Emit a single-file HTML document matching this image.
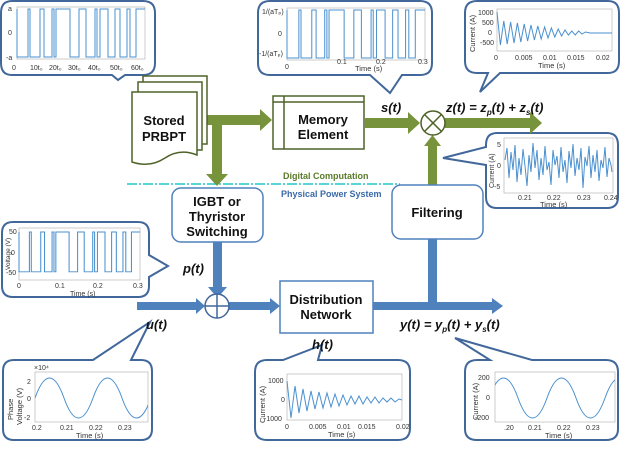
<!DOCTYPE html>
<html><head><meta charset="utf-8"><style>
html,body{margin:0;padding:0;background:#fff;}
svg{display:block;font-family:"Liberation Sans",sans-serif;}
.bl{font-weight:bold;font-size:13px;fill:#111;text-anchor:middle}
.it{font-weight:bold;font-style:italic;font-size:13px;fill:#111}
.tk{font-size:7px;fill:#333}
.co{fill:#fff;stroke:#41679b;stroke-width:2}
.pl{fill:none;stroke:#4a90cf;stroke-width:1}
.ax{fill:none;stroke:#aaa;stroke-width:0.6}
</style></head><body>
<svg width="620" height="465" viewBox="0 0 620 465" xmlns="http://www.w3.org/2000/svg">
<defs>
<path id="sq" d="M0,0 V48 H11 V0 H13 V48 H23 V0 H27 V48 H35 V0 H37 V48 H39 V0 H53 V48 H62 V0 H69 V48 H78 V0 H80 V48 H83 V0 H91 V48 H98 V0 H103 V48 H110 V0 H113 V48 H119 V0 H128"/>
</defs>

<path class="co" d="M12,1 H143 Q155,1 155,13 V63 Q155,75 143,75 H125 L118,80 L112,75 H12 Q1,75 1,63 V13 Q1,1 12,1 Z"/>
<rect class="ax" x="17" y="7" width="128" height="52"/>
<g transform="translate(17,9)"><use href="#sq" class="pl"/></g>
<text class="tk" x="8" y="11">a</text><text class="tk" x="8" y="35">0</text><text class="tk" x="6" y="60">-a</text>
<text class="tk" x="12" y="70">0</text><text class="tk" x="30" y="70">10t₀</text><text class="tk" x="49" y="70">20t₀</text><text class="tk" x="68" y="70">30t₀</text><text class="tk" x="88" y="70">40t₀</text><text class="tk" x="110" y="70">50t₀</text><text class="tk" x="131" y="70">60t₀</text>

<path class="co" d="M270,1 H420 Q432,1 432,13 V63 Q432,75 420,75 H402 L390,93 L370,75 H270 Q258,75 258,63 V13 Q258,1 270,1 Z"/>
<rect class="ax" x="287" y="8" width="138" height="52"/>
<g transform="translate(287,10) scale(1.078,1)"><use href="#sq" class="pl" style="stroke-width:0.93"/></g>
<text class="tk" x="262" y="14">1/(aTₚ)</text><text class="tk" x="278" y="36">0</text><text class="tk" x="259" y="56">-1/(aTₚ)</text>
<text class="tk" x="285" y="69">0</text><text class="tk" x="337" y="64">0.1</text><text class="tk" x="376" y="64">0.2</text><text class="tk" x="418" y="64">0.3</text>
<text class="tk" x="355" y="71" style="font-size:7.5px">Time (s)</text>

<path class="co" d="M477,1 H608 Q619,1 619,13 V61 Q619,73 608,73 H500 L480,92 L488,73 H477 Q465,73 465,61 V13 Q465,1 477,1 Z"/>
<rect class="ax" x="497" y="9" width="115" height="42"/>
<polyline class="pl" points="497,12 500.4,45 503.8,21 507.2,44 510.6,22 514,43 517.4,23 520.8,42 524.2,24 527.6,41 531,25 534.4,40 537.8,26 541.2,39 544.6,27 548,38 551.4,28 554.8,37 558.2,29 561.6,36 565,30 568.4,35 571.8,31 575.2,35 578.6,31 582,34 585.4,32 590,33 612,33"/>
<text class="tk" x="478" y="15">1000</text><text class="tk" x="482" y="25">500</text><text class="tk" x="488" y="35">0</text><text class="tk" x="480" y="45">-500</text>
<text class="tk" x="494" y="60">0</text><text class="tk" x="515" y="60">0.005</text><text class="tk" x="543" y="60">0.01</text><text class="tk" x="567" y="60">0.015</text><text class="tk" x="596" y="60">0.02</text>
<text class="tk" x="538" y="68" style="font-size:7.5px">Time (s)</text>
<text class="tk" transform="translate(475,52) rotate(-90)" style="font-size:7.5px">Current (A)</text>

<path class="co" d="M497,133 H607 Q618,133 618,145 V197 Q618,208 607,208 H497 Q486,208 486,197 V165 L443,158 L486,147 V145 Q486,133 497,133 Z"/>
<rect class="ax" x="504" y="138" width="109" height="55"/>
<polyline class="pl" points="505,160 507,148 509,178 511,152 513,170 515,145 517,182 519,158 521,175 523,149 525,166 527,186 529,155 531,172 533,143 535,168 537,150 539,180 541,158 543,175 545,146 547,170 549,162 551,185 553,150 555,165 557,156 559,178 561,147 563,172 565,160 567,183 569,151 571,168 573,144 575,176 577,158 579,170 581,148 583,188 585,157 587,166 589,146 591,178 593,155 595,172 597,150 599,181 601,160 603,168 605,147 607,177 609,158 611,165 612,172"/>
<text class="tk" x="497" y="147">5</text><text class="tk" x="497" y="168">0</text><text class="tk" x="494" y="189">-5</text>
<text class="tk" x="518" y="200">0.21</text><text class="tk" x="547" y="200">0.22</text><text class="tk" x="577" y="200">0.23</text><text class="tk" x="604" y="200">0.24</text>
<text class="tk" x="540" y="207" style="font-size:7.5px">Time (s)</text>
<text class="tk" transform="translate(494,188) rotate(-90)" style="font-size:7px">Current (A)</text>

<path class="co" d="M13,222 H138 Q149,222 149,233 V255 L168,266 L149,277 V286 Q149,297 138,297 H13 Q2,297 2,286 V233 Q2,222 13,222 Z"/>
<rect class="ax" x="19" y="228" width="121" height="52"/>
<g transform="translate(19,232) scale(0.945,0.83)"><use href="#sq" class="pl" style="stroke-width:1.1"/></g>
<text class="tk" x="9" y="234">50</text><text class="tk" x="11" y="255">0</text><text class="tk" x="6" y="275">-50</text>
<text class="tk" x="17" y="288">0</text><text class="tk" x="55" y="288">0.1</text><text class="tk" x="93" y="288">0.2</text><text class="tk" x="133" y="288">0.3</text>
<text class="tk" x="70" y="296">Time (s)</text>
<text class="tk" transform="translate(10,270) rotate(-90)" style="font-size:6.5px">Voltage (V)</text>

<path class="co" d="M14,360 H93 L150,322 L131,360 H141 Q152,360 152,371 V429 Q152,440 141,440 H14 Q3,440 3,429 V371 Q3,360 14,360 Z"/>
<rect class="ax" x="35" y="372" width="113" height="50"/>
<svg x="35" y="372" width="113" height="50" overflow="hidden"><path class="pl" d="M0,26 c9.5,-26.7 19.5,-26.7 29,0 s19.5,26.7 29,0 s19.5,-26.7 29,0 s19.5,26.7 29,0"/></svg>
<text class="tk" x="34" y="370">×10⁴</text>
<text class="tk" x="27" y="384">2</text><text class="tk" x="27" y="401">0</text><text class="tk" x="24" y="420">-2</text>
<text class="tk" x="32" y="430">0.2</text><text class="tk" x="60" y="430">0.21</text><text class="tk" x="89" y="430">0.22</text><text class="tk" x="118" y="430">0.23</text>
<text class="tk" x="76" y="438" style="font-size:7.5px">Time (s)</text>
<text class="tk" transform="translate(13,420) rotate(-90)" style="font-size:7.5px">Phase</text>
<text class="tk" transform="translate(22,425) rotate(-90)" style="font-size:7.5px">Voltage (V)</text>

<path class="co" d="M267,360 H283 L322,345 L318,360 H398 Q410,360 410,372 V428 Q410,440 398,440 H267 Q255,440 255,428 V372 Q255,360 267,360 Z"/>
<rect class="ax" x="287" y="374" width="115" height="46"/>
<polyline class="pl" points="287,381 291,418 295,386 299,413 303,389 307,411 311,391 315,409 319,392 323,408 327,393 331,407 335,394 339,406 343,395 347,405 351,396 355,404 359,396 363,404 367,397 371,403 375,397 379,403 383,398 387,402 391,398 395,402 399,399 402,400"/>
<text class="tk" x="268" y="383">1000</text><text class="tk" x="281" y="402">0</text><text class="tk" x="264" y="421">-1000</text>
<text class="tk" x="285" y="429">0</text><text class="tk" x="309" y="429">0.005</text><text class="tk" x="337" y="429">0.01</text><text class="tk" x="358" y="429">0.015</text><text class="tk" x="396" y="429">0.02</text>
<text class="tk" x="328" y="437" style="font-size:7.5px">Time (s)</text>
<text class="tk" transform="translate(265,423) rotate(-90)" style="font-size:7.5px">Current (A)</text>

<path class="co" d="M477,360 H490 L455,338 L532,360 H606 Q618,360 618,372 V429 Q618,440 606,440 H477 Q465,440 465,429 V372 Q465,360 477,360 Z"/>
<rect class="ax" x="495" y="372" width="120" height="50"/>
<svg x="495" y="372" width="120" height="50" overflow="hidden"><path class="pl" d="M-6,26 c9.5,-26.7 19.5,-26.7 29,0 s19.5,26.7 29,0 s19.5,-26.7 29,0 s19.5,26.7 29,0 s19.5,-26.7 29,0"/></svg>
<text class="tk" x="478" y="380">200</text><text class="tk" x="486" y="400">0</text><text class="tk" x="475" y="420">-200</text>
<text class="tk" x="504" y="430">.20</text><text class="tk" x="528" y="430">0.21</text><text class="tk" x="557" y="430">0.22</text><text class="tk" x="586" y="430">0.23</text>
<text class="tk" x="545" y="438" style="font-size:7.5px">Time (s)</text>
<text class="tk" transform="translate(478,420) rotate(-90)" style="font-size:7.5px">Current (A)</text>

<line x1="127" y1="184" x2="400" y2="184" stroke="#22c7c7" stroke-width="1.5" stroke-dasharray="10,2,2,2"/>
<text x="283" y="179" style="font-size:9px;font-weight:bold;fill:#5a7a2a">Digital Computation</text>
<text x="281" y="197" style="font-size:9px;font-weight:bold;fill:#3b6aa8">Physical Power System</text>

<rect x="205" y="115" width="56" height="10" fill="#77933c"/>
<polygon points="260,109 272,120 260,131" fill="#77933c"/>
<rect x="212" y="120" width="10" height="55" fill="#77933c"/>
<polygon points="206,174 217,186 228,174" fill="#77933c"/>
<rect x="365" y="118" width="45" height="10" fill="#77933c"/>
<polygon points="408,112 420,123 408,134" fill="#77933c"/>
<rect x="445" y="118" width="87" height="10" fill="#77933c"/>
<polygon points="530,112 542,123 530,134" fill="#77933c"/>
<rect x="428" y="145" width="9" height="40" fill="#77933c"/>
<polygon points="424,146 432.5,135 441,146" fill="#77933c"/>

<g fill="#fff" stroke="#4f6228" stroke-width="1.5">
<rect x="143" y="76" width="64" height="68"/>
<rect x="138" y="82" width="64" height="68"/>
<path d="M132,92 H197 V155 Q180,148 165,158 Q150,168 132,162 Z"/>
</g>
<text class="bl" x="164" y="125">Stored</text><text class="bl" x="164" y="141">PRBPT</text>

<rect x="273" y="96" width="91" height="53" fill="#fff" stroke="#4f6228" stroke-width="1.5"/>
<line x1="273" y1="102" x2="364" y2="102" stroke="#4f6228" stroke-width="1.5"/>
<line x1="284" y1="96" x2="284" y2="149" stroke="#4f6228" stroke-width="1.5"/>
<text class="bl" x="323" y="124">Memory</text><text class="bl" x="323" y="139">Element</text>

<circle cx="433" cy="123" r="12" fill="#fff" stroke="#4f6228" stroke-width="1.5"/>
<line x1="424.5" y1="114.5" x2="441.5" y2="131.5" stroke="#4f6228" stroke-width="1.5"/>
<line x1="441.5" y1="114.5" x2="424.5" y2="131.5" stroke="#4f6228" stroke-width="1.5"/>
<text class="it" x="381" y="112">s(t)</text>
<text class="it" x="446" y="112">z(t) = z<tspan font-size="8" dy="3">p</tspan><tspan dy="-3">(t) + z</tspan><tspan font-size="8" dy="3">s</tspan><tspan dy="-3">(t)</tspan></text>

<rect x="213" y="242" width="9" height="47" fill="#4f81bd"/>
<polygon points="208,287 217.5,298 227,287" fill="#4f81bd"/>
<rect x="137" y="302" width="60" height="8" fill="#4f81bd"/>
<polygon points="196,298 205,306 196,314" fill="#4f81bd"/>
<rect x="229" y="302" width="42" height="8" fill="#4f81bd"/>
<polygon points="270,298 280,306 270,314" fill="#4f81bd"/>
<rect x="373" y="302" width="120" height="8" fill="#4f81bd"/>
<polygon points="492,298 503,306 492,314" fill="#4f81bd"/>
<rect x="428" y="239" width="9" height="65" fill="#4f81bd"/>

<circle cx="217" cy="306" r="12" fill="#fff" stroke="#41679b" stroke-width="1.5"/>
<line x1="205" y1="306" x2="229" y2="306" stroke="#41679b" stroke-width="1.5"/>
<line x1="217" y1="294" x2="217" y2="318" stroke="#41679b" stroke-width="1.5"/>

<rect x="172" y="188" width="91" height="54" rx="9" fill="#fff" stroke="#4f81bd" stroke-width="1.5"/>
<text class="bl" x="217" y="206">IGBT or</text><text class="bl" x="217" y="221">Thyristor</text><text class="bl" x="217" y="236">Switching</text>
<rect x="392" y="185" width="91" height="54" rx="9" fill="#fff" stroke="#4f81bd" stroke-width="1.5"/>
<text class="bl" x="437" y="217">Filtering</text>
<rect x="280" y="281" width="93" height="52" fill="#fff" stroke="#4f81bd" stroke-width="1.5"/>
<text class="bl" x="326" y="304">Distribution</text><text class="bl" x="326" y="319">Network</text>

<text class="it" x="183" y="273">p(t)</text>
<text class="it" x="146" y="329">u(t)</text>
<text class="it" x="312" y="349">h(t)</text>
<text class="it" x="400" y="329">y(t) = y<tspan font-size="8" dy="3">p</tspan><tspan dy="-3">(t) + y</tspan><tspan font-size="8" dy="3">s</tspan><tspan dy="-3">(t)</tspan></text>
</svg>
</body></html>
